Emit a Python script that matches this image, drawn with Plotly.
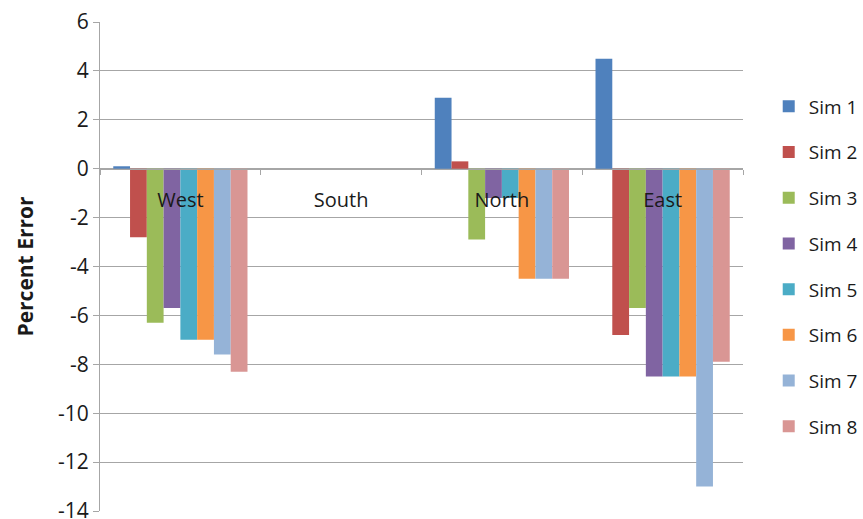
import plotly.graph_objects as go

# Regions along the category axis
regions = ["West", "South", "North", "East"]

# Percent error per simulation, one value per region
sim_names = ["Sim 1", "Sim 2", "Sim 3", "Sim 4", "Sim 5", "Sim 6", "Sim 7", "Sim 8"]
sim1 = [0.1, 0.0, 2.9, 4.5]
sim2 = [-2.8, 0.0, 0.3, -6.8]
sim3 = [-6.3, 0.0, -2.9, -5.7]
sim4 = [-5.7, 0.0, -1.2, -8.5]
sim5 = [-7.0, 0.0, -1.2, -8.5]
sim6 = [-7.0, 0.0, -4.5, -8.5]
sim7 = [-7.6, 0.0, -4.5, -13.0]
sim8 = [-8.3, 0.0, -4.5, -7.9]

y_ticks = [6, 4, 2, 0, -2, -4, -6, -8, -10, -12, -14]

colors = ["#4F81BD", "#C0504D", "#9BBB59", "#8064A2",
          "#4BACC6", "#F79646", "#95B3D7", "#D99694"]

series = [sim1, sim2, sim3, sim4, sim5, sim6, sim7, sim8]

FONT = "'Open Sans', Lato, sans-serif"
GRID = "#A6A6A6"
TEXT = "#1a1a1a"

fig = go.Figure()
for name, vals, col in zip(sim_names, series, colors):
    fig.add_trace(go.Bar(
        x=regions, y=vals, name=name,
        marker=dict(color=col, line=dict(width=0)),
        legendgroup=name,
    ))

y_min, y_max = -14, 6
zero_pos = (0 - y_min) / (y_max - y_min)

fig.update_layout(
    width=863, height=519,
    margin=dict(l=100, r=120, t=22, b=8, autoexpand=False),
    paper_bgcolor="white", plot_bgcolor="white",
    barmode="group", bargap=0.165, bargroupgap=0,
    font=dict(family=FONT, size=20, color=TEXT),
    showlegend=True,
    legend=dict(
        x=1.040, xanchor="left", y=0.5, yanchor="middle",
        font=dict(size=19, family=FONT, color=TEXT),
        tracegroupgap=18, itemwidth=30,
        bgcolor="rgba(0,0,0,0)",
    ),
    xaxis=dict(
        type="category",
        anchor="free", position=zero_pos,
        showline=True, linecolor=GRID, linewidth=1,
        ticks="outside", ticklen=5, tickcolor=GRID, tickson="boundaries",
        showgrid=False, zeroline=False,
        tickfont=dict(size=20, family=FONT, color=TEXT),
        ticklabelstandoff=13,
        layer="above traces",
    ),
    yaxis=dict(
        range=[y_min, y_max],
        tickvals=y_ticks, ticktext=[str(v) for v in y_ticks],
        showgrid=True, gridcolor=GRID, gridwidth=1,
        zeroline=False,
        showline=True, linecolor=GRID, linewidth=1,
        ticks="outside", ticklen=6, tickcolor=GRID,
        ticklabeloverflow="allow",
        tickfont=dict(size=21, family=FONT, color=TEXT),
        title=dict(text="<b>Percent Error</b>", font=dict(size=21, family=FONT, color=TEXT),
                   standoff=18),
    ),
)

fig.write_html("out.html")
